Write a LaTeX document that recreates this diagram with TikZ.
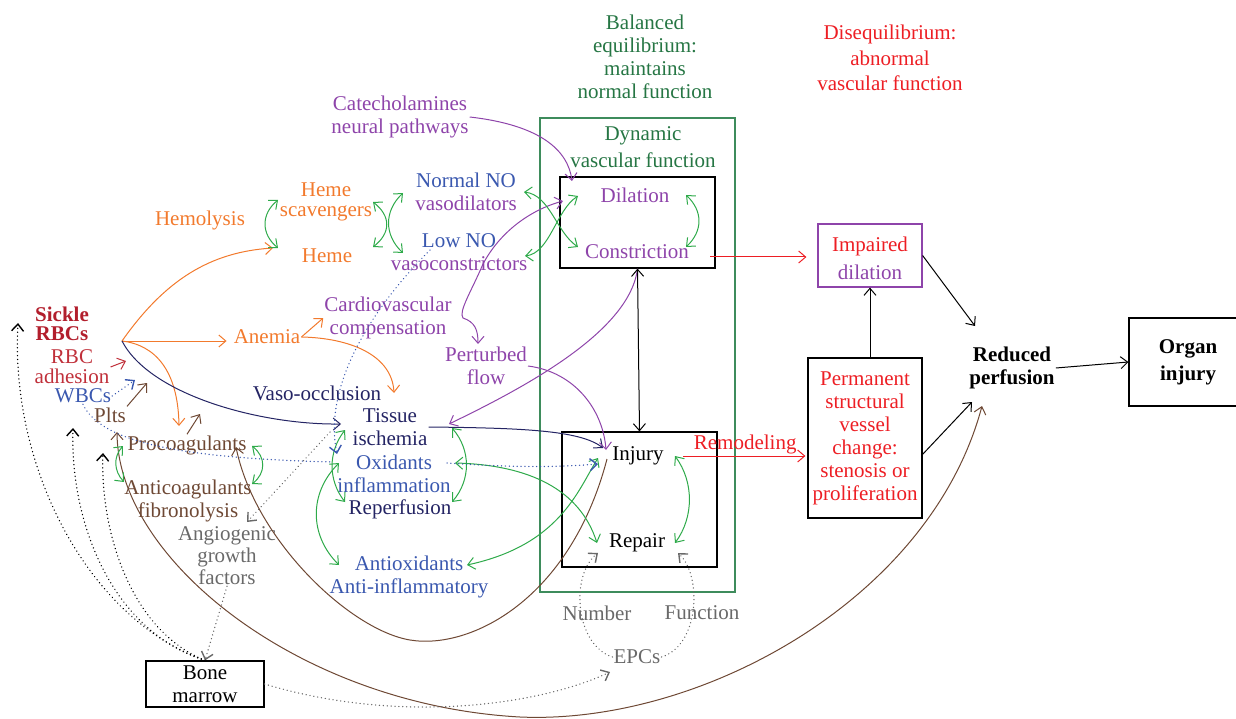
\documentclass[tikz,border=0pt]{standalone}
\usepackage{fontspec}
\setmainfont{Liberation Serif}
\usetikzlibrary{arrows.meta}

\definecolor{horange}{RGB}{242,122,45}
\definecolor{agreen}{RGB}{46,170,74}
\definecolor{dkgreen}{RGB}{38,118,68}
\definecolor{boxgreen}{RGB}{62,140,92}
\definecolor{vpurple}{RGB}{142,68,170}
\definecolor{noblue}{RGB}{58,88,175}
\definecolor{navyblue}{RGB}{36,36,100}
\definecolor{brwn}{RGB}{110,72,52}
\definecolor{dred}{RGB}{237,30,36}
\definecolor{sickred}{RGB}{178,30,44}
\definecolor{rbcred}{RGB}{192,48,58}
\definecolor{gry}{RGB}{105,105,105}

\tikzset{
  txt/.style={align=center, inner sep=1pt, font=\fontsize{21}{23}\selectfont},
  tight/.style={font=\fontsize{21}{20}\selectfont},
  bold/.style={font=\fontsize{21}{23}\selectfont\bfseries},
  box/.style={draw=black, line width=1.2pt},
  arr/.style={line width=1pt, -{Straight Barb[length=7pt,width=12pt]}},
  both/.style={line width=1pt, {Straight Barb[length=7pt,width=12pt]}-{Straight Barb[length=7pt,width=12pt]}},
  dots/.style={line width=1.4pt, dash pattern=on 0.1pt off 3.8pt, line cap=round},
}

\begin{document}
\begin{tikzpicture}[x=1pt, y=-1pt]
  \useasboundingbox (0,0) rectangle (1236,719);
  %------------Headings----------
  \node[txt, dkgreen] (balanced) at (645,57) {Balanced\\equilibrium:\\maintains\\normal function};
  \node[txt, dred, font=\fontsize{21}{25.5}\selectfont] (diseq) at (890,58) {Disequilibrium:\\abnormal\\vascular function};
  %------------Dynamic vascular function--------------
  \node[draw=boxgreen, line width=1.2pt, minimum width=195, minimum height=474] (dynbox) at (637.5,355) {};
  \node[txt, dkgreen, font=\fontsize{21}{27}\selectfont] (dyntitle) at (643,147) {Dynamic\\vascular function};
  \node[box, minimum width=155, minimum height=91] (dilbox) at (637.5,222.5) {};
  \node[txt, vpurple] (dil) at (635,195) {Dilation};
  \node[txt, vpurple] (con) at (637,252) {Constriction};
  \node[box, minimum width=155, minimum height=135] (injbox) at (639.5,499.5) {};
  \node[txt] (inj) at (638,456) {Injury};
  \node[txt] (rep) at (637,543) {Repair};
  %------------Right side--------------
  \node[box, draw=vpurple, minimum width=104, minimum height=63] (imp) at (870,255.5) {};
  \node[txt, font=\fontsize{21}{28}\selectfont] (imptxt) at (870,258) {{\color{dred}Impaired}\\{\color{vpurple}dilation}};
  \node[box, txt, text=dred, minimum width=114, minimum height=160] (perm) at (865,438) {Permanent\\structural\\vessel\\change:\\stenosis or\\proliferation};
  \node[txt, bold] (redperf) at (1012,368) {Reduced\\perfusion};
  \node[box, minimum width=112, minimum height=88] (organ) at (1185,362) {};
  \node[txt, font=\fontsize{21}{27}\selectfont\bfseries] (organtxt) at (1188,362) {Organ\\injury};
  %------------Left side--------------
  \node[txt, sickred, font=\fontsize{21}{19.5}\selectfont\bfseries] (sickle) at (62,324) {Sickle\\RBCs};
  \node[txt, tight, rbcred] (rbcadh) at (72,367) {RBC\\adhesion};
  \node[txt, noblue] (wbc) at (83,396) {WBCs};
  \node[txt, brwn] (plts) at (110,415) {Plts};
  \node[txt, brwn] (procoag) at (187,445) {Procoagulants};
  \node[txt, brwn] (anticoag) at (188,501) {Anticoagulants\\fibronolysis};
  \node[txt, gry, font=\fontsize{21}{22}\selectfont] (angio) at (227,556) {Angiogenic\\growth\\factors};
  \node[box, txt, minimum width=118, minimum height=46] (bone) at (205,684) {Bone\\marrow};
  %------------Middle--------------
  \node[txt, horange] (hemolysis) at (200,220) {Hemolysis};
  \node[txt, tight, horange] (hemescav) at (326,202) {Heme\\scavengers};
  \node[txt, horange] (heme) at (327,256) {Heme};
  \node[txt] (normno) at (466,192) {{\color{noblue}Normal NO}\\{\color{vpurple}vasodilators}};
  \node[txt] (lowno) at (459,252) {{\color{noblue}Low NO}\\{\color{vpurple}vasoconstrictors}};
  \node[txt, vpurple] (catechol) at (400,117) {Catecholamines\\neural pathways};
  \node[txt, vpurple] (cardio) at (388,318) {Cardiovascular\\compensation};
  \node[txt, horange] (anemia) at (267,337) {Anemia};
  \node[txt, vpurple] (perturbed) at (486,366) {Perturbed\\flow};
  \node[txt, navyblue] (vaso) at (317,393) {Vaso-occlusion};
  \node[txt, navyblue] (tissue) at (390,427) {Tissue\\ischemia};
  \node[txt, noblue] (oxid) at (394,474) {Oxidants\\inflammation};
  \node[txt, navyblue] (reperf) at (400,509) {Reperfusion};
  \node[txt, noblue] (antiox) at (409,577) {Antioxidants\\Anti-inflammatory};
  \node[txt, gry] (number) at (597,613) {Number};
  \node[txt, gry] (function) at (702,613) {Function};
  \node[txt, gry] (epcs) at (637,657) {EPCs};

  %------------Anchor points----------
  \coordinate (src) at (122,341);
  \coordinate (hemeIn) at (273,248);
  \coordinate (procIn) at (179,426);
  \coordinate (tisTop) at (394,393);
  \coordinate (tisIn) at (341,424);
  \coordinate (tisIn2) at (449,424);
  \coordinate (injIn) at (603,448);
  \coordinate (injIn2) at (606,450);
  \coordinate (dilIn) at (572,181);
  \coordinate (dilIn2) at (563,201);
  \coordinate (vcMid) at (483,264);
  \coordinate (pertIn) at (478,344);
  \coordinate (conOut) at (710,257);
  \coordinate (injOut) at (683,456);
  \coordinate (permOut) at (922,455);
  \coordinate (rpIn1) at (975,326);
  \coordinate (rpIn2) at (972,402);
  \coordinate (rpIn3) at (982,406);
  \coordinate (rbcTip) at (126,361);
  \coordinate (wbcTip) at (135,380);
  \coordinate (pltTip) at (147,383);
  \coordinate (pltIn) at (117,432);
  \coordinate (procTip) at (200,414);
  \coordinate (procIn2) at (236,447);
  \coordinate (injOut2) at (607,459);
  \coordinate (scavL) at (278,200); \coordinate (hemeL) at (278,248);
  \coordinate (scavR) at (373,202); \coordinate (hemeR) at (373,247);
  \coordinate (normL) at (403,193); \coordinate (lowL) at (403,253);
  \coordinate (normR) at (524,192); \coordinate (lowR) at (525,256);
  \coordinate (dilL) at (578,196); \coordinate (conL) at (578,247);
  \coordinate (dilR) at (686,195); \coordinate (conR) at (686,247);
  \coordinate (tisL) at (345,430); \coordinate (repfL) at (345,502);
  \coordinate (tisR) at (452,428); \coordinate (repfR) at (452,502);
  \coordinate (oxL) at (339,463); \coordinate (antiL) at (339,565);
  \coordinate (oxR) at (455,463); \coordinate (antiR) at (467,565);
  \coordinate (injL) at (598,458); \coordinate (repL) at (597,543);
  \coordinate (injR) at (675,456); \coordinate (repR) at (675,543);
  \coordinate (procL) at (123,446); \coordinate (antiCL) at (124,482);
  \coordinate (procR) at (252,446); \coordinate (antiCR) at (252,484);
  \coordinate (lowDot) at (430,250); \coordinate (oxTop) at (337,454);
  \coordinate (oxDot) at (333,462);
  \coordinate (oxOut) at (447,463); \coordinate (injIn3) at (598,464);
  \coordinate (tisDot) at (330,432); \coordinate (angioIn) at (247,522);
  \coordinate (blk1) at (18,323); \coordinate (blk2) at (73,428); \coordinate (blk3) at (103,453);
  \coordinate (epcsIn) at (610,672);
  \coordinate (repIn1) at (598,553); \coordinate (repIn2) at (678,553);

  %------------Orange----------
  \draw[arr, horange] (src) .. controls (165,280) and (210,252) .. (hemeIn);
  \draw[arr, horange, shorten >=6pt] (src) -- (src -| anemia.west);
  \draw[arr, horange] (src) .. controls (155,345) and (178,370) .. (procIn);
  \draw[arr, horange] (anemia.east) -- (cardio.west);
  \draw[arr, horange] (anemia.east) .. controls (350,338) and (392,355) .. (tisTop);
  %------------Navy----------
  \draw[arr, navyblue] (src) .. controls (150,395) and (260,425) .. (tisIn);
  \draw[arr, navyblue] (tissue.east) .. controls (520,428) and (580,430) .. (injIn);
  %------------Purple----------
  \draw[arr, vpurple] (catechol.east) .. controls (540,125) and (568,150) .. (dilIn);
  \draw[arr, vpurple] (vcMid) .. controls (500,232) and (530,210) .. (dilIn2);
  \draw[arr, vpurple] (vcMid) .. controls (472,290) and (458,312) .. (463,318) .. controls (475,322) and (478,330) .. (pertIn);
  \draw[arr, vpurple] (perturbed.east) .. controls (575,372) and (603,410) .. (injIn2);
  \draw[arr, vpurple] (dilbox.south) .. controls (630,330) and (530,385) .. (tisIn2);
  %------------Black----------
  \draw[both] (dilbox.south) -- (injbox.north);
  \draw[arr] (imp.south |- perm.north) -- (imp.south);
  \draw[arr] (imp.east) -- (rpIn1);
  \draw[arr] (permOut) -- (rpIn2);
  \draw[arr] (redperf.east) -- (organ.west);
  %------------Red----------
  \draw[arr, dred, shorten >=11pt] (conOut) -- (imp.west |- conOut);
  \draw[arr, dred, shorten >=2pt] (injOut) -- (perm.west |- injOut) node[txt, midway, above=0pt] {Remodeling};
  \draw[arr, rbcred] (rbcadh.east) -- (rbcTip);
  %------------Brown----------
  \draw[arr, brwn] (plts.north east) -- (pltTip);
  \draw[arr, brwn] (procoag.north) -- (procTip);
  \draw[arr, brwn] (injOut2) .. controls (570,600) and (470,650) .. (410,640) .. controls (350,630) and (255,540) .. (procIn2);
  \draw[both, brwn] (pltIn) .. controls (118,560) and (300,705) .. (520,717) .. controls (700,725) and (930,600) .. (rpIn3);
  %------------Green----------
  \foreach \a/\b/\d/\h in {scavL/hemeL/-17/14, scavR/hemeR/18/14, normL/lowL/-19/18,
      dilR/conR/17/16, tisL/repfL/-17/22, tisR/repfR/19/22, oxL/antiL/-30/30,
      injR/repR/19/26, procL/antiCL/-10/11, procR/antiCR/14/11}
    \draw[both, agreen] (\a) .. controls +(\d,\h) and +(\d,-\h) .. (\b);
  \draw[both, agreen] (normR) .. controls (550,195) and (556,232) .. (conL);
  \draw[both, agreen] (lowR) .. controls (550,253) and (556,210) .. (dilL);
  \draw[both, agreen] (oxR) .. controls (530,465) and (580,490) .. (repL);
  \draw[both, agreen] (injL) .. controls (578,490) and (560,545) .. (antiR);
  %------------Dotted----------
  \draw[arr, dots, noblue] (wbc.east) -- (wbcTip);
  \draw[dots, noblue] (wbc.south) .. controls (100,440) and (170,458) .. (oxDot);
  \draw[arr, dots, noblue] (lowDot) .. controls (380,300) and (322,380) .. (oxTop);
  \draw[arr, dots, noblue] (oxOut) .. controls (520,468) and (560,467) .. (injIn3);
  \draw[arr, dots, gry] (tisDot) -- (angioIn);
  \draw[arr, dots, gry] (angio.south) -- (bone.north);
  \draw[arr, dots] (bone.north) .. controls (90,620) and (10,470) .. (blk1);
  \draw[arr, dots] (bone.north) .. controls (110,630) and (70,520) .. (blk2);
  \draw[arr, dots] (bone.north) .. controls (130,630) and (100,530) .. (blk3);
  \draw[arr, dots, gry] (bone.east) .. controls (400,725) and (540,705) .. (epcsIn);
  \draw[arr, dots, gry] (epcs.west) .. controls (575,645) and (570,575) .. (repIn1);
  \draw[arr, dots, gry] (epcs.east) .. controls (700,645) and (702,575) .. (repIn2);
\end{tikzpicture}
\end{document}
